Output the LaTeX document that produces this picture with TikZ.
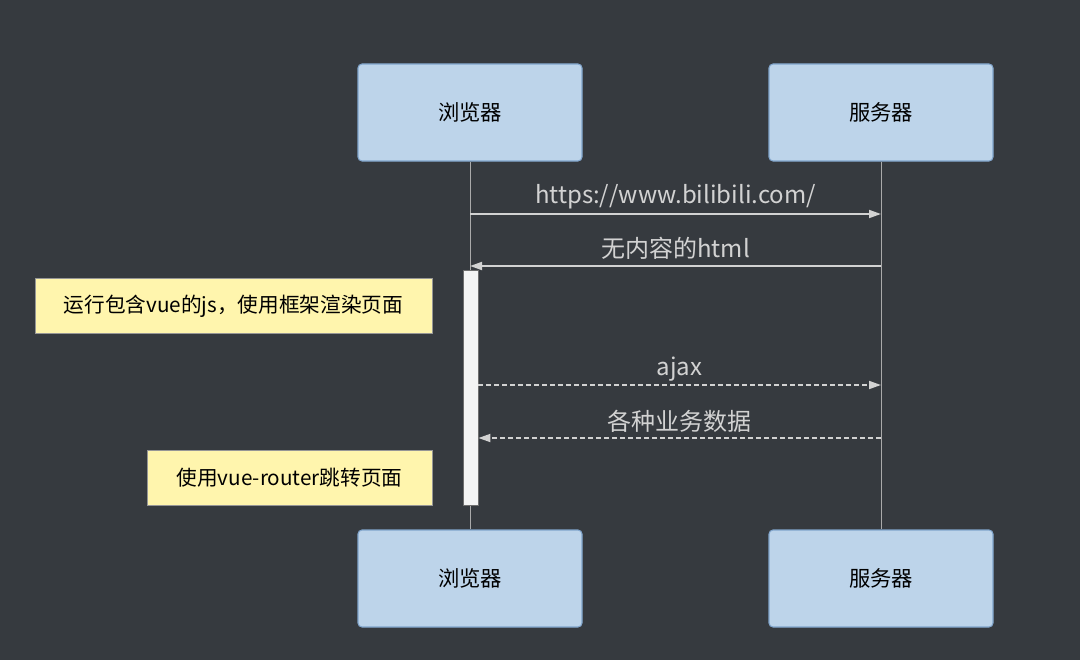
\documentclass[tikz,border=0pt]{standalone}
\usepackage{fontspec}
\setmainfont{Noto Sans CJK SC}
\usetikzlibrary{arrows.meta,positioning}
\definecolor{SeqBg}{RGB}{54,58,63}
\definecolor{SeqActor}{RGB}{189,212,234}
\definecolor{SeqActorLine}{RGB}{129,165,204}
\definecolor{SeqNote}{RGB}{255,245,173}
\definecolor{SeqNoteLine}{RGB}{150,150,150}
\definecolor{SeqLine}{RGB}{210,210,210}
\definecolor{SeqLife}{RGB}{170,170,170}
\definecolor{SeqAct}{RGB}{244,244,244}
\definecolor{SeqActLine}{RGB}{110,110,110}

\begin{document}
\begin{tikzpicture}[x=0.75pt,y=-0.75pt,
  actor/.style={rounded corners=3pt,draw=SeqActorLine,fill=SeqActor,line width=0.8pt,
                minimum width=168pt,minimum height=72.75pt,font=\fontsize{16}{19}\selectfont,inner sep=0pt},
  note/.style={draw=SeqNoteLine,fill=SeqNote,line width=0.6pt,minimum height=41pt,
               font=\fontsize{15.5}{18}\selectfont,inner sep=0pt},
  actbar/.style={draw=SeqActLine,fill=SeqAct,line width=0.6pt,minimum width=11.25pt,
                 minimum height=176.25pt,inner sep=0pt},
  life/.style={draw=SeqLife,line width=0.6pt},
  msg/.style={-{Triangle[length=9pt,width=6pt]},draw=SeqLine,line width=1.3pt},
  dmsg/.style={msg,dash pattern=on 3.5pt off 2.5pt},
  lbl/.style={text=SeqLine,font=\fontsize{18}{21}\selectfont,inner sep=0pt}
]
\fill[SeqBg] (0,0) rectangle (1080,660);
\useasboundingbox (0,0) rectangle (1080,660);

% actors
\node[actor] (bTop) at (470,112.5) {浏览器};
\node[actor] (sTop) at (881,112.5) {服务器};
\node[actor] (bBot) at (470,578.5) {浏览器};
\node[actor] (sBot) at (881,578.5) {服务器};

\draw[life] (bTop) -- (bBot);
\draw[life] (sTop) -- (sBot);

\node[actbar] (act) at (470.5,387.5) {};

% message rows
\coordinate (m1b) at (470,214);   \coordinate (m1s) at (881,214);
\coordinate (m2b) at (470,266);   \coordinate (m2s) at (881,266);
\coordinate (m3b) at (act.east |- 0,385); \coordinate (m3s) at (881,385);
\coordinate (m4b) at (act.east |- 0,438); \coordinate (m4s) at (881,438);

\draw[msg] (m1b) -- (m1s);
\draw[msg] (m2s) -- (m2b);
\draw[dmsg] (m3b) -- (m3s);
\draw[dmsg] (m4s) -- (m4b);

\node[lbl] (l1) at (675.5,197) {https://www.bilibili.com/};
\node[lbl] (l2) at (675.5,248) {无内容的html};
\node[lbl] (l3) at (679.5,369) {ajax};
\node[lbl] (l4) at (679.5,421) {各种业务数据};

% notes
\node[note,minimum width=297.75pt] (n1) at (233.5,306) {运行包含vue的js，使用框架渲染页面};
\node[note,minimum width=213.75pt] (n2) at (289.5,478) {使用vue-router跳转页面};
\end{tikzpicture}
\end{document}
